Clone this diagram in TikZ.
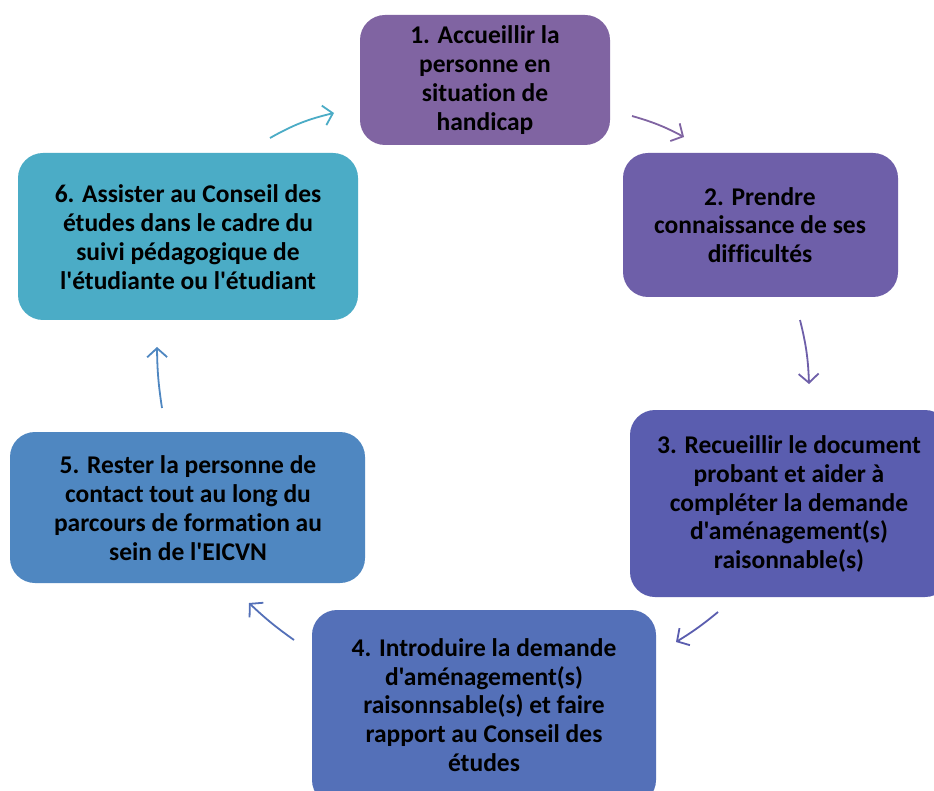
\documentclass[tikz,border=0pt]{standalone}
\usepackage{fontspec}
\setmainfont{Carlito}[Ligatures={TeXOff,NoCommon}]
\usetikzlibrary{arrows.meta}
\definecolor{cA}{HTML}{8064A2}
\definecolor{cB}{HTML}{6E5FA9}
\definecolor{cC}{HTML}{5A5DAF}
\definecolor{cD}{HTML}{5470B8}
\definecolor{cE}{HTML}{4F87C1}
\definecolor{cF}{HTML}{4BACC6}
\tikzset{
  stepbox/.style={inner sep=0pt, align=center,
    font=\fontsize{25.5}{28.8}\selectfont\bfseries, text=black},
  cyc/.style={line width=1.8pt, -{Straight Barb[length=9pt,width=20pt,line width=1.8pt]}}
}
\begin{document}
\begin{tikzpicture}[x=1pt,y=-1pt]
\clip (0,0) rectangle (934,791);
\fill[white] (0,0) rectangle (934,791);
% boxes
\fill[cA, rounded corners=25pt] (360,15) rectangle (610,145);
\node[stepbox] (n1) at (485,80) {1. Accueillir la\\personne en\\situation de\\handicap};
\fill[cB, rounded corners=25pt] (623,153) rectangle (898,297);
\node[stepbox] (n2) at (760,225) {2. Prendre\\connaissance de ses\\difficultés};
\fill[cC, rounded corners=25pt] (630,410) rectangle (950,597);
\node[stepbox] (n3) at (789,504) {3. Recueillir le document\\probant et aider à\\compléter la demande\\d'aménagement(s)\\raisonnable(s)};
\fill[cD, rounded corners=25pt] (312,610) rectangle (656,805);
\node[stepbox] (n4) at (484,705) {4. Introduire la demande\\d'aménagement(s)\\raisonnsable(s) et faire\\rapport au Conseil des\\études};
\fill[cE, rounded corners=25pt] (10,432) rectangle (365,583);
\node[stepbox] (n5) at (188,508) {5. Rester la personne de\\contact tout au long du\\parcours de formation au\\sein de l'EICVN};
\fill[cF, rounded corners=25pt] (18,153) rectangle (358,320);
\node[stepbox] (n6) at (188,237) {6. Assister au Conseil des\\études dans le cadre du\\suivi pédagogique de\\l'étudiante ou l'étudiant};
% arrow end points
\coordinate (a1s) at (270,138); \coordinate (a1e) at (334,113);
\coordinate (a2s) at (632,116); \coordinate (a2e) at (684,137);
\coordinate (a3s) at (800,320); \coordinate (a3e) at (809,384);
\coordinate (a4s) at (718,612); \coordinate (a4e) at (676,642);
\coordinate (a5s) at (294,640); \coordinate (a5e) at (249,603);
\coordinate (a6s) at (162,408); \coordinate (a6e) at (157,347);
\draw[cyc, cF] (a1s) to[bend left=8] (a1e);
\draw[cyc, cA] (a2s) to[bend left=6] (a2e);
\draw[cyc, cB] (a3s) to[bend left=6] (a3e);
\draw[cyc, cC] (a4s) to[bend left=4] (a4e);
\draw[cyc, cD] (a5s) to[bend left=4] (a5e);
\draw[cyc, cE] (a6s) to[bend left=4] (a6e);
\end{tikzpicture}
\end{document}
